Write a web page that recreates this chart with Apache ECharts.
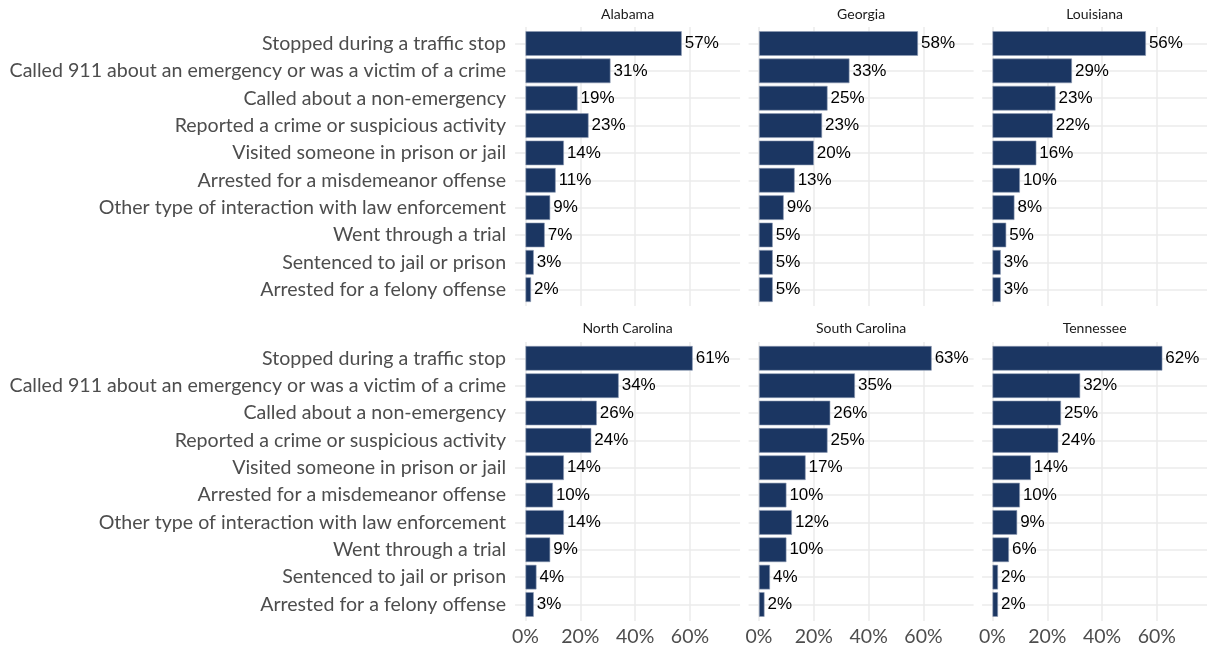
<!DOCTYPE html>
<html><head><meta charset="utf-8">
<script src="https://cdn.jsdelivr.net/npm/echarts@6/dist/echarts.min.js"></script>
<style>html,body{margin:0;padding:0;background:#fff}#c{width:1207px;height:648px}</style>
</head><body><div id="c"></div>
<script>
const categories = [
  "Stopped during a traffic stop",
  "Called 911 about an emergency or was a victim of a crime",
  "Called about a non-emergency",
  "Reported a crime or suspicious activity",
  "Visited someone in prison or jail",
  "Arrested for a misdemeanor offense",
  "Other type of interaction with law enforcement",
  "Went through a trial",
  "Sentenced to jail or prison",
  "Arrested for a felony offense"
];
const states = ["Alabama", "Georgia", "Louisiana", "North Carolina", "South Carolina", "Tennessee"];
const alabama       = [57, 31, 19, 23, 14, 11, 9, 7, 3, 2];
const georgia       = [58, 33, 25, 23, 20, 13, 9, 5, 5, 5];
const louisiana     = [56, 29, 23, 22, 16, 10, 8, 5, 3, 3];
const northCarolina = [61, 34, 26, 24, 14, 10, 14, 9, 4, 3];
const southCarolina = [63, 35, 26, 25, 17, 10, 12, 10, 4, 2];
const tennessee     = [62, 32, 25, 24, 14, 10, 9, 6, 2, 2];
const xTickValues = [0, 20, 40, 60];

const stateValues = [alabama, georgia, louisiana, northCarolina, southCarolina, tennessee];

// layout
const colLeft = [515.1, 748.6, 982.1];
const panelW = 225;
const rowTop = [27.1, 341.9];
const panelH = 279;
const band = panelH / 10.2;
const xMin = -3.8, xMax = 78.3;
const barColor = '#1b3662';
const gridColor = '#ebebeb';

const grids = [], xAxes = [], yAxes = [], series = [], titles = [];
states.forEach((st, i) => {
  const r = Math.floor(i / 3), c = i % 3;
  const left = colLeft[c], top = rowTop[r];
  // background grid (gridlines)
  const bg = grids.length;
  grids.push({left: left, top: top, width: panelW, height: panelH, containLabel: false});
  xAxes.push({
    type: 'value', gridIndex: bg, min: xMin, max: xMax, splitNumber: 4,
    axisLine: {show: false}, axisTick: {show: false},
    splitLine: {show: true, showMinLine: false, showMaxLine: false, lineStyle: {color: gridColor, width: 1.5}},
    axisLabel: {
      show: r === 1, margin: 6, fontFamily: 'Lato', fontSize: 19.5, color: '#4d4d4d',
      showMinLabel: false, showMaxLabel: false,
      formatter: v => xTickValues.includes(v) ? v + '%' : ''
    }
  });
  yAxes.push({
    type: 'value', gridIndex: bg, min: -0.6, max: 9.6, splitNumber: 10, inverse: true,
    axisLine: {show: false}, axisTick: {show: false}, axisLabel: {show: false},
    splitLine: {show: true, showMinLine: false, showMaxLine: false, lineStyle: {color: gridColor, width: 1.5}}
  });
  // bar grid
  const bgi = grids.length;
  grids.push({left: left, top: top + 0.1 * band, width: panelW, height: 10 * band, containLabel: false});
  xAxes.push({
    type: 'value', gridIndex: bgi, min: xMin, max: xMax, splitNumber: 4,
    axisLine: {show: false}, axisTick: {show: false}, axisLabel: {show: false}, splitLine: {show: false}
  });
  yAxes.push({
    type: 'category', gridIndex: bgi, data: categories, inverse: true,
    axisLine: {show: false},
    axisTick: {show: c === 0, alignWithLabel: true, length: 5, lineStyle: {color: gridColor, width: 1.5}},
    splitLine: {show: false},
    axisLabel: {show: c === 0, margin: 9, fontFamily: 'Lato', fontSize: 19.6, color: '#4d4d4d'}
  });
  series.push({
    type: 'bar', xAxisIndex: bgi, yAxisIndex: bgi, data: stateValues[i],
    barCategoryGap: '10%',
    itemStyle: {color: barColor, borderColor: '#8d9bb3', borderWidth: 0.6},
    label: {show: true, position: 'right', distance: 3, formatter: '{c}%',
      fontFamily: 'Liberation Sans', fontSize: 17, color: '#000'},
    silent: true, animation: false
  });
  titles.push({
    text: st, left: left + panelW / 2, top: r === 0 ? 7 : 321, textAlign: 'center', padding: 0,
    textStyle: {fontFamily: 'Lato', fontSize: 14, fontWeight: 'normal', color: '#1a1a1a'}
  });
});

const chart = echarts.init(document.getElementById('c'), null, {renderer: 'canvas'});
chart.setOption({
  animation: false,
  backgroundColor: '#ffffff',
  title: titles,
  grid: grids,
  xAxis: xAxes,
  yAxis: yAxes,
  series: series
});
</script>
</body></html>
